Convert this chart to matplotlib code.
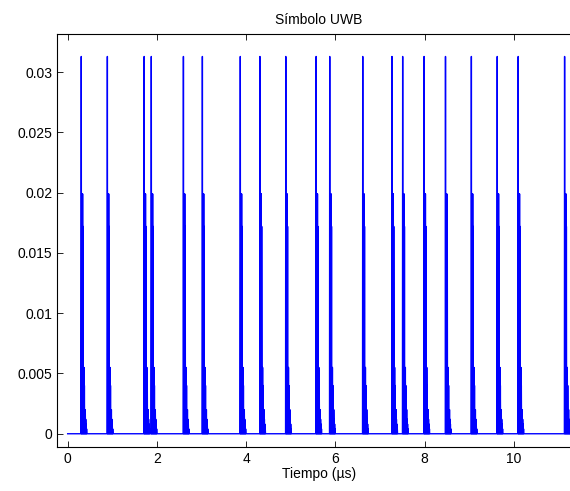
import numpy as np
import matplotlib
matplotlib.use("Agg")
import matplotlib.pyplot as plt

# pulse start times (us)
pulse_starts = [0.306, 0.888, 1.716, 1.873, 2.595, 3.02, 3.87, 4.31, 4.89, 5.57,
                5.877, 6.615, 7.27, 7.51, 7.99, 8.47, 9.05, 9.63, 10.1, 11.14]
# channel taps of one pulse: delay (us) and amplitude
tap_delays = [0.0, 0.01, 0.02, 0.03, 0.04, 0.05, 0.06, 0.07, 0.08, 0.09, 0.10,
              0.11, 0.12]
tap_amps = [0.0313, 0.0199, 0.0199, 0.0199, 0.0172, 0.0055, 0.0055, 0.0040,
            0.0020, 0.0020, 0.0012, 0.0008, 0.0004]
t_end = 11.6
dt = 0.005

plt.rcParams['font.family'] = ['Liberation Sans', 'DejaVu Sans']
plt.rcParams['font.size'] = 10

t = np.arange(0, t_end, dt)
s = np.zeros_like(t)
for t0 in pulse_starts:
    for d, a in zip(tap_delays, tap_amps):
        i = int(round((t0 + d) / dt))
        if i < len(s):
            s[i] = a

fig = plt.figure(figsize=(5.7, 4.91), dpi=100)
ax = fig.add_axes([0.1007, 0.0896, 0.918, 0.842])
ax.plot(t, s, color='#0000ff', lw=1.0)
ax.set_xlim(-0.23, 11.5)
ax.set_ylim(-0.0011, 0.0332)
ax.set_xticks([0, 2, 4, 6, 8, 10])
ax.set_yticks([0, 0.005, 0.01, 0.015, 0.02, 0.025, 0.03])
ax.set_yticklabels(['0', '0.005', '0.01', '0.015', '0.02', '0.025', '0.03'])
ax.tick_params(direction='in', top=True, right=True, length=4, width=0.6)
for sp in ax.spines.values():
    sp.set_linewidth(0.8)
ax.set_title('Símbolo UWB', fontsize=10, pad=7)
ax.set_xlabel('Tiempo (µs)', fontsize=10, labelpad=1)

fig.savefig('out.png', dpi=100)
